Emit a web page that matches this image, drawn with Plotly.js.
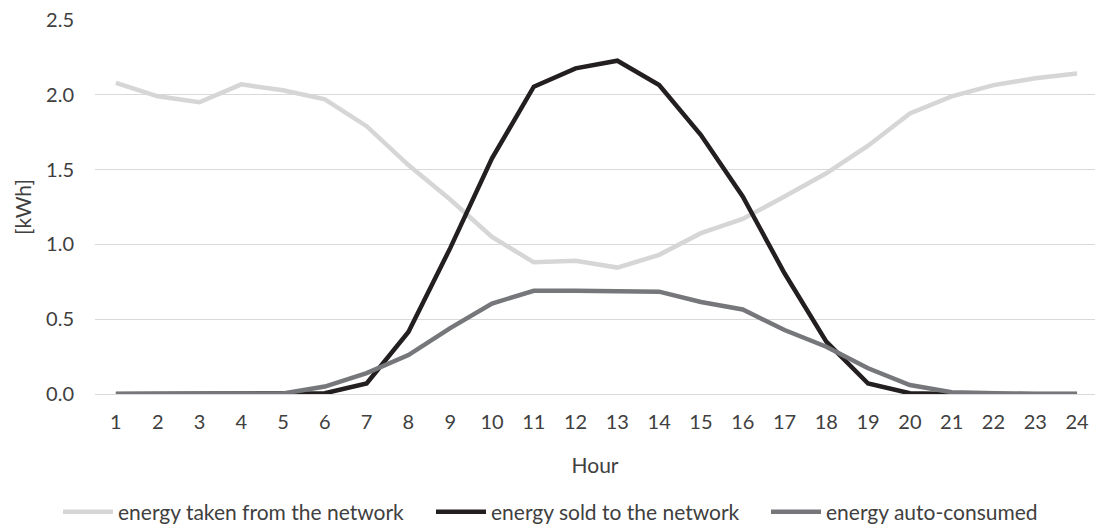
<!DOCTYPE html>
<html>
<head>
<meta charset="utf-8">
<script src="https://cdn.plot.ly/plotly-3.0.1.min.js"></script>
<style>html,body{margin:0;padding:0;background:#fff;}#chart{width:1095px;height:529px;}</style>
</head>
<body>
<div id="chart"></div>
<script>
const hours = [1,2,3,4,5,6,7,8,9,10,11,12,13,14,15,16,17,18,19,20,21,22,23,24];
const takenFromNetwork = [2.08,1.99,1.95,2.07,2.03,1.97,1.79,1.53,1.30,1.05,0.88,0.89,0.845,0.93,1.075,1.17,1.32,1.475,1.66,1.875,1.99,2.065,2.11,2.143];
const soldToNetwork = [0,0,0,0,0,0.005,0.07,0.415,0.975,1.575,2.054,2.177,2.228,2.065,1.731,1.32,0.807,0.35,0.07,0.005,0,0,0,0];
const autoConsumed = [0,0,0,0,0.003,0.05,0.14,0.26,0.44,0.605,0.69,0.69,0.688,0.684,0.615,0.565,0.428,0.316,0.172,0.06,0.012,0.003,0,0];
const seriesNames = ["energy taken from the network","energy sold to the network","energy auto-consumed"];
const yTicks = [0,0.5,1.0,1.5,2.0,2.5];

const font = "Lato, 'Open Sans', sans-serif";
const mk = (y, name, color, leg) => ({
  x: hours, y: y, name: name, type: 'scatter', mode: 'lines', legend: leg,
  line: {color: color, width: 4.5, shape: 'linear'}
});
const data = [
  mk(takenFromNetwork, seriesNames[0], '#d6d6d6', 'legend'),
  mk(soldToNetwork, seriesNames[1], '#231f20', 'legend2'),
  mk(autoConsumed, seriesNames[2], '#76777a', 'legend3')
];
const legBase = (x) => ({
  orientation: 'h', x: x, xanchor: 'left', xref: 'paper',
  y: 1 - 512/529, yanchor: 'middle', yref: 'container',
  font: {size: 21, color: '#404040'}, itemwidth: 50, bgcolor: 'rgba(0,0,0,0)'
});
const layout = {
  width: 1095, height: 529,
  margin: {l: 95, r: 0, t: 20, b: 135},
  paper_bgcolor: '#fff', plot_bgcolor: '#fff',
  font: {family: font, size: 21, color: '#404040'},
  showlegend: true,
  xaxis: {
    range: [0.5, 24.43], tickvals: hours, ticktext: hours.map(String),
    showgrid: false, zeroline: false, showline: false, ticks: '',
    automargin: false,
    ticklabelstandoff: 14,
    tickfont: {size: 20, color: '#404040'},
    title: {text: 'Hour', font: {size: 21, color: '#404040'}, standoff: 26}
  },
  yaxis: {
    range: [0, 2.5], tickvals: yTicks, tickformat: '.1f',
    showgrid: true, gridcolor: '#d9d9d9', gridwidth: 1,
    zeroline: true, zerolinecolor: '#d9d9d9', zerolinewidth: 1,
    showline: false, ticks: '', automargin: false,
    ticklabelstandoff: 20,
    tickfont: {size: 20, color: '#404040'},
    title: {text: '[kWh]', font: {size: 21, color: '#404040'}, standoff: 8}
  },
  legend: legBase(-0.037),
  legend2: legBase(0.336),
  legend3: legBase(0.671)
};
Plotly.newPlot('chart', data, layout, {staticPlot: true});
</script>
</body>
</html>
